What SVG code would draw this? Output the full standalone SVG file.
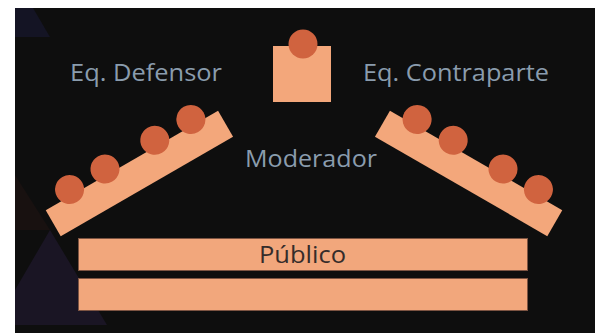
<svg xmlns="http://www.w3.org/2000/svg" width="602" height="333" viewBox="0 0 602 333">
  <style>
    .tbl { fill: #f3a77b; }
    .seat { fill: #d0633f; }
    .bar { fill: #f2a77c; stroke: #7d5442; stroke-width: 1; }
    .lbl { font-family: "Open Sans", "Noto Sans", sans-serif; font-size: 23px; font-weight: 500; fill: #8a9cad; }
    .pub { font-family: "Open Sans", "Noto Sans", sans-serif; font-size: 23px; font-weight: 500; fill: #352c2a; }
  </style>
  <rect x="0" y="0" width="602" height="333" fill="#ffffff"/>
  <g id="background">
    <rect x="15" y="8" width="580" height="325" fill="#0e0e0e"/>
    <polygon points="15,8 33,8 50,37 15,37" fill="#141424"/>
    <polygon points="15,175 50,230 15,230" fill="#181110"/>
    <polygon points="50,230 107,325 15,325 15,290" fill="#1a1524"/>
  </g>
  <g id="moderador">
    <rect x="273" y="46" width="58" height="56" class="tbl"/>
    <circle cx="303" cy="44" r="14.5" class="seat"/>
    <text x="245" y="167" class="lbl" textLength="132" lengthAdjust="spacingAndGlyphs">Moderador</text>
  </g>
  <g id="defensor">
    <g transform="translate(139.4,173.4) rotate(-30)">
      <rect x="-99.5" y="-15" width="199" height="30" class="tbl"/>
      <circle cx="-68.5" cy="-21" r="14.5" class="seat"/>
      <circle cx="-27.6" cy="-21" r="14.5" class="seat"/>
      <circle cx="29.9" cy="-21" r="14.5" class="seat"/>
      <circle cx="71.6" cy="-21" r="14.5" class="seat"/>
    </g>
    <text x="70" y="81" class="lbl" textLength="152" lengthAdjust="spacingAndGlyphs">Eq. Defensor</text>
  </g>
  <g id="contraparte">
    <g transform="translate(468.6,173.4) rotate(30)">
      <rect x="-99.5" y="-15" width="199" height="30" class="tbl"/>
      <circle cx="68.5" cy="-21" r="14.5" class="seat"/>
      <circle cx="27.6" cy="-21" r="14.5" class="seat"/>
      <circle cx="-29.9" cy="-21" r="14.5" class="seat"/>
      <circle cx="-71.6" cy="-21" r="14.5" class="seat"/>
    </g>
    <text x="363" y="81" class="lbl" textLength="186" lengthAdjust="spacingAndGlyphs">Eq. Contraparte</text>
  </g>
  <g id="publico">
    <rect x="78.5" y="238.5" width="449" height="32" class="bar"/>
    <rect x="78.5" y="278.5" width="449" height="32" class="bar"/>
    <text x="259" y="263" class="pub" textLength="87" lengthAdjust="spacingAndGlyphs">Público</text>
  </g>
</svg>
